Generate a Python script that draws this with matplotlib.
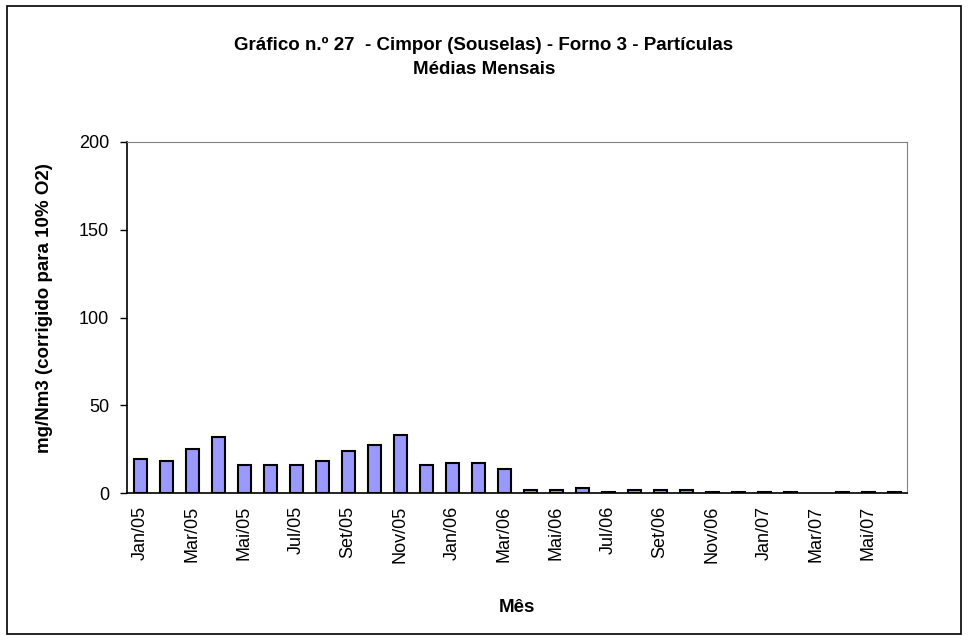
import matplotlib
matplotlib.use("Agg")
import matplotlib.pyplot as plt
from matplotlib import patches
import numpy as np

plt.rcParams['font.family'] = ['Liberation Sans', 'DejaVu Sans']

# monthly means, Jan/05 .. Jun/07 (Mar/07 has no value)
months = ['Jan/05', 'Fev/05', 'Mar/05', 'Abr/05', 'Mai/05', 'Jun/05',
          'Jul/05', 'Ago/05', 'Set/05', 'Out/05', 'Nov/05', 'Dez/05',
          'Jan/06', 'Fev/06', 'Mar/06', 'Abr/06', 'Mai/06', 'Jun/06',
          'Jul/06', 'Ago/06', 'Set/06', 'Out/06', 'Nov/06', 'Dez/06',
          'Jan/07', 'Fev/07', 'Mar/07', 'Abr/07', 'Mai/07', 'Jun/07']
values = [19.3, 18.4, 25.0, 32.0, 15.9, 15.9, 15.9, 18.4, 24.0, 27.3,
          33.0, 15.9, 17.0, 17.0, 13.5, 1.9, 1.9, 3.0, 0.8, 1.9,
          1.9, 1.9, 0.8, 0.8, 0.8, 0.8, np.nan, 0.8, 0.8, 0.8]
yticks = [0, 50, 100, 150, 200]

fig = plt.figure(figsize=(9.68, 6.4), dpi=100)
ax = fig.add_axes([127 / 968, 1 - 493 / 640, 780 / 968, 351 / 640])

# outer chart border
fig.patches.append(patches.Rectangle((7 / 968, 6 / 640), 954 / 968, 628 / 640,
                                     transform=fig.transFigure, fill=False,
                                     edgecolor='black', linewidth=1.2))

x = np.arange(len(months))
ax.bar(x, values, width=0.5, color='#9999FF', edgecolor='black', linewidth=1.5)

ax.set_xlim(-0.5, len(months) - 0.5)
ax.set_ylim(0, 200)
ax.set_yticks(yticks)
ax.set_xticks(x[::2])
ax.set_xticklabels(months[::2], rotation=90, fontsize=13)
ax.tick_params(axis='x', length=0, pad=9)
ax.tick_params(axis='y', length=5, width=1, labelsize=13, direction='out', pad=8)

for side in ['top', 'right']:
    ax.spines[side].set_color('#808080')
for side in ['left', 'bottom']:
    ax.spines[side].set_color('black')
    ax.spines[side].set_linewidth(1.2)

ax.set_xlabel('Mês', fontsize=13.5, fontweight='bold', labelpad=26)
ax.set_ylabel('mg/Nm3 (corrigido para 10% O2)', fontsize=13.5, fontweight='bold')
ax.yaxis.set_label_coords(-0.095, 0.527)

fig.text(0.5, 1 - 45 / 640, 'Gráfico n.º 27  - Cimpor (Souselas) - Forno 3 - Partículas',
         ha='center', va='center', fontsize=13.5, fontweight='bold')
fig.text(0.5, 1 - 70 / 640, 'Médias Mensais',
         ha='center', va='center', fontsize=13.5, fontweight='bold')

fig.savefig('out.png', dpi=100)
